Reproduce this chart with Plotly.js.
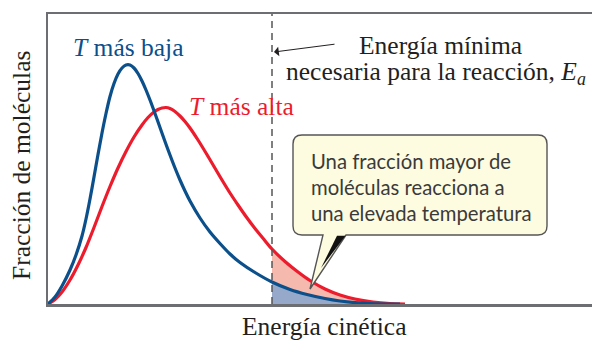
<!DOCTYPE html>
<html>
<head>
<meta charset="utf-8">
<script src="https://cdn.plot.ly/plotly-3.0.1.min.js"></script>
<style>html,body{margin:0;padding:0;background:#fff;}#chart{width:592px;height:344px;}</style>
</head>
<body>
<div id="chart"></div>
<script>
// Kinetic energy and fraction of molecules, arbitrary units
const energyLow  = [0, 7, 14, 22, 28, 34, 38, 42, 46, 50, 54, 58, 62, 66, 70, 74, 78, 82, 86, 90, 94, 98, 102, 107, 112, 117, 122, 127, 132, 137, 142, 152, 162, 172, 182, 192, 207, 224, 242, 259, 277, 292, 307, 322, 352];
const fracLow    = [0, 7, 18, 34, 49, 68, 85, 105, 127, 149.5, 171, 190.5, 207.5, 220.5, 230, 236, 239, 239, 236, 230.5, 223, 214, 204, 190.5, 176.5, 162.5, 149, 136, 124, 113, 103, 86, 72, 60.5, 50, 41.5, 31.5, 22, 14.5, 9.5, 5.5, 3, 1.4, 0.5, 0];
const energyHigh = [0, 7, 14, 22, 30, 38, 46, 54, 62, 70, 78, 86, 94, 100, 106, 110, 114, 118, 122, 127, 132, 137, 142, 150, 158, 166, 174, 182, 190, 198, 207, 216, 224, 237, 250, 262, 277, 292, 307, 325, 342, 357];
const fracHigh   = [0, 4.5, 12, 24, 39, 56.5, 76.5, 97.5, 117.5, 136, 152.5, 167, 179, 186.5, 192, 194.5, 196, 196.5, 195.5, 192.5, 188, 182.5, 176, 164, 151, 137.5, 124, 111, 99, 87.5, 75.5, 64.5, 55, 42.5, 32, 23.5, 15, 9, 5, 2, 0.5, 0];
const Ea = 224;  // minimum energy needed for the reaction

const labels = {
  low: '<i>T</i> más baja',
  high: '<i>T</i> más alta',
  ea1: 'Energía mínima',
  ea2: 'necesaria para la reacción, <i>E<sub>a</sub></i>',
  callout: ['Una fracción mayor de', 'moléculas reacciona a', 'una elevada temperatura'],
  xTitle: 'Energía cinética',
  yTitle: 'Fracción de moléculas'
};

const BLUE = '#0b4f8b', RED = '#ec1c2d', FRAME = '#6d6e71', INK = '#231f20';
const serif = 'Liberation Serif, Times New Roman, serif';
const sans = 'Lato, Open Sans, sans-serif';

function tail(xs, ys) {
  const tx = [], ty = [];
  xs.forEach((x, i) => { if (x >= Ea) { tx.push(x); ty.push(ys[i]); } });
  return {x: tx, y: ty};
}
const tLow = tail(energyLow, fracLow);
const tHigh = tail(energyHigh, fracHigh);

// pixel -> paper helpers (plot area 48..592 x 14..304)
const px = v => (v - 48) / 544;
const py = v => (304 - v) / 290;
function path(pts) {
  return pts.map(p => {
    if (p[0] === 'M' || p[0] === 'L') return p[0] + px(p[1]).toFixed(5) + ',' + py(p[2]).toFixed(5);
    if (p[0] === 'Q') return 'Q' + px(p[1]).toFixed(5) + ',' + py(p[2]).toFixed(5) + ' ' + px(p[3]).toFixed(5) + ',' + py(p[4]).toFixed(5);
    return p[0];
  }).join(' ');
}

const traces = [
  {x: tLow.x, y: tLow.y, mode: 'lines', line: {width: 0, shape: 'spline'}, fill: 'tozeroy', fillcolor: '#97a9cb', hoverinfo: 'skip', showlegend: false},
  {x: tHigh.x, y: tHigh.y, mode: 'lines', line: {width: 0, shape: 'spline'}, fill: 'tonexty', fillcolor: '#f5b9ad', hoverinfo: 'skip', showlegend: false},
  {x: energyHigh, y: fracHigh, mode: 'lines', line: {color: RED, width: 3.2, shape: 'spline', smoothing: 0.8}, showlegend: false},
  {x: energyLow, y: fracLow, mode: 'lines', line: {color: BLUE, width: 3.2, shape: 'spline', smoothing: 0.8}, showlegend: false}
];

const callPath = path([
  ['M', 302, 135], ['L', 538, 135], ['Q', 547, 135, 547, 144], ['L', 547, 226], ['Q', 547, 235, 538, 235],
  ['L', 346, 235], ['L', 310, 289], ['L', 323, 235], ['L', 302, 235], ['Q', 293, 235, 293, 226],
  ['L', 293, 144], ['Q', 293, 135, 302, 135], ['Z']
]);
const shadowPath = path([['M', 337, 235.8], ['L', 345.5, 235.8], ['L', 321, 268], ['Z']]);

const layout = {
  width: 592, height: 344,
  margin: {l: 48, r: 0, t: 14, b: 40},
  paper_bgcolor: '#fff', plot_bgcolor: '#fff',
  xaxis: {range: [0, 544], showgrid: false, zeroline: false, showticklabels: false, ticks: '',
          showline: true, mirror: true, linecolor: FRAME, linewidth: 2.5, fixedrange: true},
  yaxis: {range: [0, 290], showgrid: false, zeroline: false, showticklabels: false, ticks: '',
          showline: true, linecolor: FRAME, linewidth: 2.5, fixedrange: true},
  shapes: [
    {type: 'line', xref: 'x', yref: 'paper', x0: Ea, x1: Ea, y0: 0, y1: 1,
     line: {color: '#555', width: 1.5, dash: '7px,5px'}},
    {type: 'path', xref: 'paper', yref: 'paper', path: callPath, fillcolor: '#fefce0',
     line: {color: '#555', width: 1.4}, layer: 'above'},
    {type: 'path', xref: 'paper', yref: 'paper', path: shadowPath, fillcolor: '#111',
     line: {width: 0}, layer: 'above'}
  ],
  annotations: [
    {xref: 'paper', yref: 'paper', x: px(128), y: py(47), text: labels.low, showarrow: false,
     font: {family: serif, size: 25.5, color: BLUE}, xanchor: 'center', yanchor: 'middle'},
    {xref: 'paper', yref: 'paper', x: px(241), y: py(107), text: labels.high, showarrow: false,
     font: {family: serif, size: 25.5, color: RED}, xanchor: 'center', yanchor: 'middle'},
    {xref: 'paper', yref: 'paper', x: px(440), y: py(45), text: labels.ea1, showarrow: false,
     font: {family: serif, size: 25.5, color: INK}, xanchor: 'center', yanchor: 'middle'},
    {xref: 'paper', yref: 'paper', x: px(436), y: py(73), text: labels.ea2, showarrow: false,
     font: {family: serif, size: 25.5, color: INK}, xanchor: 'center', yanchor: 'middle'},
    {xref: 'paper', yref: 'paper', x: px(274), y: py(52), ax: 62, ay: -8, text: '', showarrow: true,
     arrowhead: 1, arrowsize: 1.6, arrowwidth: 1, arrowcolor: INK},
    {xref: 'paper', yref: 'paper', x: px(309), y: py(161), text: labels.callout[0], showarrow: false,
     font: {family: sans, size: 20.3, color: '#3a3a3a'}, xanchor: 'left', yanchor: 'middle'},
    {xref: 'paper', yref: 'paper', x: px(309), y: py(187), text: labels.callout[1], showarrow: false,
     font: {family: sans, size: 20.3, color: '#3a3a3a'}, xanchor: 'left', yanchor: 'middle'},
    {xref: 'paper', yref: 'paper', x: px(309), y: py(213), text: labels.callout[2], showarrow: false,
     font: {family: sans, size: 20.3, color: '#3a3a3a'}, xanchor: 'left', yanchor: 'middle'},
    {xref: 'paper', yref: 'paper', x: px(324), y: py(343.5), text: labels.xTitle, showarrow: false,
     font: {family: serif, size: 25.5, color: INK}, xanchor: 'center', yanchor: 'bottom'},
    {xref: 'paper', yref: 'paper', x: px(22), y: py(166), text: labels.yTitle, showarrow: false, textangle: -90,
     font: {family: serif, size: 25.5, color: INK}, xanchor: 'center', yanchor: 'middle'}
  ]
};

Plotly.newPlot('chart', traces, layout, {displayModeBar: false, staticPlot: true});
</script>
</body>
</html>
